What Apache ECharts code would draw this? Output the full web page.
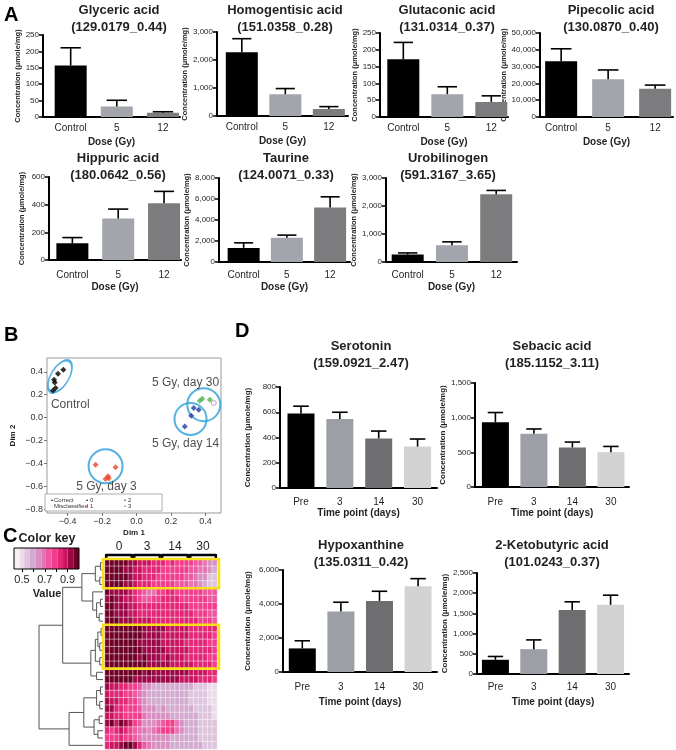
<!DOCTYPE html>
<html>
<head>
<meta charset="utf-8">
<title>Metabolite panels</title>
<script src="https://cdn.jsdelivr.net/npm/echarts@6.0.0/dist/echarts.min.js"></script>
<style>
  html, body { margin: 0; padding: 0; background: #ffffff; }
  #chart { width: 676px; height: 750px; }
</style>
</head>
<body>
<div id="chart"></div>
<script>
/* eslint-env es6 */

// ---------------- data ----------------

const doseGroups = ['Control', '5', '12'];
const timeGroups = ['Pre', '3', '14', '30'];

// mean and top of error bar, µmole/mg
const glycericMean = [157, 32, 13];
const glycericUpper = [211, 51, 16];
const homogentisicMean = [2280, 777, 251];
const homogentisicUpper = [2761, 980, 335];
const glutaconicMean = [172, 68, 45];
const glutaconicUpper = [222, 90, 63];
const pipecolicMean = [33200, 22400, 16800];
const pipecolicUpper = [40600, 28000, 19000];
const hippuricMean = [121, 300, 411];
const hippuricUpper = [162, 368, 496];
const taurineMean = [1344, 2304, 5184];
const taurineUpper = [1824, 2560, 6208];
const urobilinogenMean = [264, 600, 2424];
const urobilinogenUpper = [324, 720, 2556];

const serotoninMean = [590, 546, 393, 328];
const serotoninUpper = [648, 600, 451, 388];
const sebacicMean = [934, 769, 571, 503];
const sebacicUpper = [1074, 837, 648, 585];
const hypoxanthineMean = [1388, 3557, 4182, 5042];
const hypoxanthineUpper = [1837, 4104, 4749, 5492];
const ketobutyricMean = [352, 615, 1582, 1713];
const ketobutyricUpper = [434, 844, 1787, 1951];

// panel B, MDS coordinates
const controlDim = [[-0.425, 0.417], [-0.456, 0.383], [-0.479, 0.330], [-0.475, 0.307], [-0.470, 0.258], [-0.485, 0.237]];
const day3Dim = [[-0.238, -0.409], [-0.122, -0.432], [-0.166, -0.510], [-0.180, -0.533], [-0.161, -0.528]];
const day14Dim = [[0.332, 0.084], [0.361, 0.070], [0.317, 0.017], [0.280, -0.076]];
const day30Dim = [[0.367, 0.148], [0.381, 0.165], [0.425, 0.157]];
const misclassifiedDim = [[0.448, 0.128]];
const ringCenters = [[-0.445, 0.359], [-0.180, -0.423], [0.313, -0.011], [0.390, 0.113]];
const groupNames = ['Control', '5 Gy, day 3', '5 Gy, day 14', '5 Gy, day 30'];
const groupNameAt = [[-0.385, 0.113], [-0.175, -0.597], [0.284, -0.226], [0.284, 0.304]];
const dimXTicks = [-0.4, -0.2, 0, 0.2, 0.4];
const dimYTicks = [-0.8, -0.6, -0.4, -0.2, 0, 0.2, 0.4];

// panel C, scaled intensities (rows = metabolites, columns = samples)
const dayGroups = ['0', '3', '14', '30'];
const highlightRows = [[0, 3], [9, 14]];
const heatValues = [
  [0.97, 0.98, 0.96, 0.97, 0.95, 0.93, 0.90, 0.88, 0.86, 0.87, 0.85, 0.84, 0.82, 0.80, 0.81, 0.79, 0.78, 0.77, 0.76, 0.74, 0.72, 0.70, 0.66, 0.62],
  [0.98, 0.97, 0.97, 0.95, 0.94, 0.92, 0.88, 0.86, 0.85, 0.84, 0.83, 0.82, 0.80, 0.79, 0.80, 0.78, 0.77, 0.76, 0.75, 0.72, 0.70, 0.68, 0.64, 0.60],
  [0.99, 0.98, 0.97, 0.96, 0.95, 0.91, 0.87, 0.86, 0.84, 0.82, 0.81, 0.80, 0.79, 0.78, 0.77, 0.76, 0.76, 0.74, 0.72, 0.70, 0.66, 0.62, 0.56, 0.55],
  [0.98, 0.99, 0.97, 0.96, 0.94, 0.90, 0.86, 0.85, 0.83, 0.82, 0.80, 0.79, 0.78, 0.77, 0.76, 0.75, 0.74, 0.72, 0.70, 0.68, 0.62, 0.57, 0.54, 0.55],
  [0.95, 0.94, 0.93, 0.92, 0.90, 0.88, 0.84, 0.80, 0.72, 0.68, 0.70, 0.76, 0.80, 0.82, 0.81, 0.80, 0.79, 0.80, 0.78, 0.77, 0.76, 0.75, 0.74, 0.72],
  [0.94, 0.95, 0.92, 0.90, 0.88, 0.86, 0.82, 0.78, 0.74, 0.72, 0.76, 0.80, 0.82, 0.83, 0.82, 0.81, 0.80, 0.79, 0.78, 0.78, 0.77, 0.76, 0.74, 0.73],
  [0.96, 0.95, 0.93, 0.92, 0.90, 0.88, 0.86, 0.84, 0.83, 0.82, 0.82, 0.83, 0.84, 0.84, 0.83, 0.82, 0.82, 0.81, 0.80, 0.80, 0.79, 0.78, 0.77, 0.76],
  [0.95, 0.96, 0.94, 0.92, 0.91, 0.89, 0.87, 0.85, 0.84, 0.83, 0.84, 0.85, 0.85, 0.84, 0.84, 0.83, 0.82, 0.82, 0.81, 0.80, 0.80, 0.79, 0.75, 0.72],
  [0.97, 0.96, 0.95, 0.93, 0.92, 0.90, 0.88, 0.87, 0.86, 0.86, 0.85, 0.85, 0.84, 0.84, 0.83, 0.83, 0.82, 0.82, 0.81, 0.81, 0.80, 0.78, 0.76, 0.74],
  [0.99, 0.99, 0.98, 0.98, 0.97, 0.97, 0.96, 0.95, 0.94, 0.93, 0.92, 0.91, 0.90, 0.89, 0.88, 0.88, 0.87, 0.86, 0.85, 0.84, 0.83, 0.82, 0.82, 0.81],
  [0.98, 0.99, 0.99, 0.98, 0.97, 0.96, 0.95, 0.95, 0.94, 0.92, 0.91, 0.90, 0.89, 0.88, 0.88, 0.87, 0.86, 0.86, 0.85, 0.84, 0.83, 0.82, 0.81, 0.80],
  [0.99, 0.98, 0.98, 0.97, 0.97, 0.96, 0.96, 0.94, 0.93, 0.92, 0.92, 0.91, 0.89, 0.89, 0.88, 0.87, 0.86, 0.85, 0.84, 0.84, 0.83, 0.82, 0.80, 0.79],
  [0.98, 0.99, 0.98, 0.98, 0.97, 0.97, 0.96, 0.96, 0.94, 0.93, 0.92, 0.90, 0.90, 0.89, 0.88, 0.88, 0.87, 0.86, 0.85, 0.84, 0.83, 0.82, 0.81, 0.80],
  [0.99, 0.98, 0.98, 0.97, 0.96, 0.96, 0.95, 0.94, 0.95, 0.93, 0.91, 0.90, 0.89, 0.90, 0.88, 0.87, 0.86, 0.85, 0.84, 0.83, 0.82, 0.82, 0.80, 0.78],
  [0.98, 0.98, 0.97, 0.97, 0.97, 0.96, 0.96, 0.95, 0.96, 0.94, 0.93, 0.92, 0.91, 0.90, 0.89, 0.88, 0.88, 0.87, 0.86, 0.85, 0.84, 0.83, 0.82, 0.80],
  [0.97, 0.98, 0.98, 0.97, 0.96, 0.96, 0.95, 0.95, 0.94, 0.95, 0.94, 0.93, 0.93, 0.92, 0.92, 0.91, 0.90, 0.90, 0.89, 0.88, 0.87, 0.86, 0.85, 0.84],
  [0.96, 0.97, 0.96, 0.96, 0.95, 0.95, 0.94, 0.94, 0.93, 0.93, 0.92, 0.92, 0.91, 0.91, 0.90, 0.90, 0.89, 0.88, 0.88, 0.86, 0.85, 0.84, 0.82, 0.80],
  [0.90, 0.88, 0.86, 0.85, 0.84, 0.80, 0.76, 0.72, 0.66, 0.62, 0.60, 0.60, 0.61, 0.60, 0.60, 0.59, 0.58, 0.58, 0.57, 0.56, 0.55, 0.52, 0.50, 0.50],
  [0.88, 0.85, 0.84, 0.82, 0.80, 0.78, 0.74, 0.70, 0.64, 0.61, 0.60, 0.59, 0.60, 0.59, 0.58, 0.58, 0.57, 0.57, 0.56, 0.55, 0.54, 0.52, 0.50, 0.49],
  [0.92, 0.88, 0.86, 0.84, 0.82, 0.80, 0.76, 0.68, 0.62, 0.60, 0.60, 0.59, 0.60, 0.61, 0.60, 0.59, 0.58, 0.57, 0.56, 0.55, 0.54, 0.53, 0.51, 0.50],
  [0.90, 0.92, 0.85, 0.82, 0.80, 0.78, 0.78, 0.72, 0.66, 0.63, 0.62, 0.61, 0.62, 0.61, 0.60, 0.60, 0.59, 0.58, 0.57, 0.56, 0.55, 0.54, 0.52, 0.50],
  [0.86, 0.88, 0.84, 0.82, 0.80, 0.80, 0.80, 0.76, 0.70, 0.66, 0.64, 0.63, 0.62, 0.62, 0.61, 0.60, 0.60, 0.59, 0.58, 0.57, 0.56, 0.55, 0.53, 0.51],
  [0.92, 0.95, 0.88, 0.96, 0.90, 0.86, 0.80, 0.72, 0.64, 0.62, 0.64, 0.68, 0.74, 0.78, 0.76, 0.70, 0.64, 0.60, 0.58, 0.57, 0.56, 0.55, 0.54, 0.52],
  [0.82, 0.80, 0.84, 0.86, 0.82, 0.78, 0.74, 0.70, 0.68, 0.66, 0.70, 0.74, 0.78, 0.80, 0.76, 0.70, 0.64, 0.60, 0.58, 0.57, 0.56, 0.55, 0.53, 0.52],
  [0.78, 0.76, 0.80, 0.82, 0.80, 0.76, 0.72, 0.68, 0.66, 0.64, 0.64, 0.63, 0.62, 0.62, 0.61, 0.60, 0.60, 0.59, 0.58, 0.57, 0.56, 0.55, 0.54, 0.53],
  [0.84, 0.86, 0.88, 0.92, 0.96, 0.98, 0.90, 0.82, 0.74, 0.68, 0.66, 0.64, 0.62, 0.62, 0.61, 0.60, 0.60, 0.59, 0.58, 0.58, 0.57, 0.56, 0.55, 0.55]
];
// hclust-style merges: negative = leaf row (1-based), positive = earlier merge (1-based), then height
const dendroMerges = [
  [-1, -2, 0.04], [-3, -4, 0.05], [1, 2, 0.12],
  [-6, -7, 0.04], [-8, -9, 0.06], [4, 5, 0.10], [-5, 6, 0.16], [3, 7, 0.33],
  [-10, -11, 0.03], [-12, -13, 0.05], [9, 10, 0.08], [-14, -15, 0.05], [11, 12, 0.12],
  [-16, -17, 0.10], [13, 14, 0.19], [8, 15, 0.63],
  [-18, -19, 0.04], [-20, -21, 0.05], [17, 18, 0.10], [-22, -23, 0.06], [-24, -25, 0.08],
  [20, 21, 0.14], [19, 22, 0.30], [23, -26, 0.53], [16, 24, 1.0]
];
const keyBreaks = [0.43, 0.48, 0.52, 0.57, 0.62, 0.67, 0.71, 0.76, 0.81, 0.86, 0.90, 0.95, 1.0];
const keyTicks = [0.5, 0.6, 0.7, 0.8, 0.9];
const keyLabels = [0.5, 0.7, 0.9];

// ---------------- styling ----------------

const FONT = '"Liberation Sans", Arial, Helvetica, sans-serif';
const INK = '#231f20';
const doseColors = ['#000000', '#a2a5ac', '#7c7c7e'];
const timeColors = ['#000000', '#9c9fa6', '#6e6e70', '#d3d3d3'];
const heatColors = ['#f6f0f6', '#ecdcea', '#dfc4dd', '#d4abd0', '#da8fc3', '#e574b4',
  '#ee57a2', '#f23c8c', '#e42676', '#c9155f', '#9c0847', '#6e0027'];

const barCharts = [
  { name: 'Glyceric acid', tag: '(129.0179_0.44)', cats: doseGroups, mean: glycericMean, upper: glycericUpper, yMax: 250, yStep: 50 },
  { name: 'Homogentisic acid', tag: '(151.0358_0.28)', cats: doseGroups, mean: homogentisicMean, upper: homogentisicUpper, yMax: 3000, yStep: 1000 },
  { name: 'Glutaconic acid', tag: '(131.0314_0.37)', cats: doseGroups, mean: glutaconicMean, upper: glutaconicUpper, yMax: 250, yStep: 50 },
  { name: 'Pipecolic acid', tag: '(130.0870_0.40)', cats: doseGroups, mean: pipecolicMean, upper: pipecolicUpper, yMax: 50000, yStep: 10000 },
  { name: 'Hippuric acid', tag: '(180.0642_0.56)', cats: doseGroups, mean: hippuricMean, upper: hippuricUpper, yMax: 600, yStep: 200 },
  { name: 'Taurine', tag: '(124.0071_0.33)', cats: doseGroups, mean: taurineMean, upper: taurineUpper, yMax: 8000, yStep: 2000 },
  { name: 'Urobilinogen', tag: '(591.3167_3.65)', cats: doseGroups, mean: urobilinogenMean, upper: urobilinogenUpper, yMax: 3000, yStep: 1000 },
  { name: 'Serotonin', tag: '(159.0921_2.47)', cats: timeGroups, mean: serotoninMean, upper: serotoninUpper, yMax: 800, yStep: 200 },
  { name: 'Sebacic acid', tag: '(185.1152_3.11)', cats: timeGroups, mean: sebacicMean, upper: sebacicUpper, yMax: 1500, yStep: 500 },
  { name: 'Hypoxanthine', tag: '(135.0311_0.42)', cats: timeGroups, mean: hypoxanthineMean, upper: hypoxanthineUpper, yMax: 6000, yStep: 2000 },
  { name: '2-Ketobutyric acid', tag: '(101.0243_0.37)', cats: timeGroups, mean: ketobutyricMean, upper: ketobutyricUpper, yMax: 2500, yStep: 500 }
];

// axisX, plotTop, axisEndX, zeroY, xMin, xMax, titleX, titleY, yNameGap, labelMargin, xNameGap
const barFrames = [
  [43, 35, 180, 117, -0.6, 2.37, 119, 18.5, 16, 6, 20],
  [217, 32, 348, 116, -0.57, 2.44, 285, 18.5, 21, 6, 20],
  [380, 33, 508, 117, -0.53, 2.38, 447, 18.5, 19, 6, 20],
  [540, 33, 673, 117, -0.45, 2.38, 611, 18.5, 23, 6, 20],
  [49, 177, 181, 260, -0.51, 2.37, 118, 167, 23, 10, 22],
  [219, 178, 350, 262, -0.57, 2.46, 286, 167, 22, 8, 20],
  [386, 178, 517, 262, -0.49, 2.47, 448, 167, 24, 8, 20],
  [280, 387, 437, 488, -0.54, 3.5, 361, 354.5, 28, 9, 20],
  [475, 383, 629, 487, -0.53, 3.47, 552, 354.5, 26, 10, 21],
  [283, 570, 437, 672, -0.5, 3.49, 361, 553.5, 31, 10, 25],
  [477, 573, 629, 674, -0.48, 3.48, 552, 553.5, 28, 8, 23]
];

const ringShapes = [[18, 36, -31], [34, 34, 0], [32, 32, 0], [33, 33, 0]];

// ---------------- helpers ----------------

const option = {
  animation: false,
  backgroundColor: '#ffffff',
  grid: [], xAxis: [], yAxis: [], series: [], graphic: [], visualMap: []
};

function addGrid(box, xAxis, yAxis) {
  const idx = option.grid.length;
  option.grid.push(Object.assign({ containLabel: false, outerBoundsMode: 'none' }, box));
  option.xAxis.push(Object.assign({ gridIndex: idx }, xAxis));
  option.yAxis.push(Object.assign({ gridIndex: idx }, yAxis));
  return idx;
}

function text(str, x, y, size, extra) {
  return {
    type: 'text', x, y, silent: true, z: 50,
    style: Object.assign({
      text: str, fontSize: size, fontFamily: FONT, fill: INK,
      align: 'center', verticalAlign: 'middle',
      textAlign: 'center', textVerticalAlign: 'middle'
    }, extra || {})
  };
}

const thousands = v => Number(v).toLocaleString('en-US');
const signed = v => (v < 0 ? '\u2212' : '') + Math.abs(v).toFixed(1);

function renderErrorBar(params, api) {
  const x = api.value(0);
  const base = api.coord([x, api.value(1)]);
  const top = api.coord([x, api.value(2)]);
  const half = api.size([1, 0])[0] * (api.value(3) === 3 ? 0.22 : 0.2);
  const style = { stroke: '#000', lineWidth: 1.6 };
  return {
    type: 'group',
    children: [
      { type: 'line', shape: { x1: base[0], y1: base[1], x2: top[0], y2: top[1] }, style },
      { type: 'line', shape: { x1: top[0] - half, y1: top[1], x2: top[0] + half, y2: top[1] }, style }
    ]
  };
}

// ---------------- panels A and D ----------------

barCharts.forEach((c, k) => {
  const [ax, top, axEnd, zero, xMin, xMax, tx, ty, yGap, lblMargin, xGap] = barFrames[k];
  const isTime = c.cats.length === 4;
  const colors = isTime ? timeColors : doseColors;
  const idx = addGrid(
    { left: ax, top, width: axEnd - ax, height: zero - top },
    {
      type: 'value', min: xMin, max: xMax,
      axisLine: { show: true, onZero: false, lineStyle: { color: '#000', width: 2 } },
      axisTick: { show: false },
      splitLine: { show: false },
      axisLabel: {
        customValues: c.cats.map((_, i) => i),
        formatter: v => c.cats[Math.round(v)],
        fontSize: 10, fontFamily: FONT, color: INK, margin: lblMargin
      },
      name: isTime ? 'Time point (days)' : 'Dose (Gy)',
      nameLocation: 'middle', nameGap: xGap,
      nameTextStyle: { fontSize: 10, fontWeight: 'bold', fontFamily: FONT, color: INK }
    },
    {
      type: 'value', min: 0, max: c.yMax, interval: c.yStep,
      axisLine: { show: true, onZero: false, lineStyle: { color: '#000', width: 2 } },
      axisTick: { show: true, length: 4, lineStyle: { color: '#000', width: 1.5 } },
      splitLine: { show: false },
      axisLabel: { formatter: thousands, fontSize: 8, fontFamily: FONT, color: INK, margin: 4 },
      name: 'Concentration (\u03bcmole/mg)',
      nameLocation: 'middle', nameGap: yGap,
      nameTextStyle: { fontSize: isTime ? 8 : 7.5, fontWeight: 'bold', fontFamily: FONT, color: INK }
    }
  );
  option.series.push({
    type: 'bar', xAxisIndex: idx, yAxisIndex: idx, silent: true,
    barWidth: isTime ? 27 : 32,
    data: c.mean.map((v, i) => ({ value: [i, v], itemStyle: { color: colors[i] } })),
    z: 2
  });
  option.series.push({
    type: 'custom', xAxisIndex: idx, yAxisIndex: idx, silent: true, z: 3,
    renderItem: renderErrorBar,
    data: c.mean.map((v, i) => [i, v, c.upper[i], c.cats.length])
  });
  option.graphic.push(text(c.name + '\n' + c.tag, tx, ty, 13, { fontWeight: 'bold', lineHeight: 17 }));
});

// ---------------- panel B ----------------

const bIdx = addGrid(
  { left: 47, top: 358, width: 174, height: 155, show: true, borderColor: '#9a9a9a', borderWidth: 1, backgroundColor: 'transparent' },
  {
    type: 'value', min: -0.52, max: 0.49,
    axisLine: { show: false, onZero: false }, splitLine: { show: false },
    axisTick: { show: true, customValues: dimXTicks, length: 3, lineStyle: { color: '#777' } },
    axisLabel: { customValues: dimXTicks, formatter: signed, fontSize: 9, fontFamily: FONT, color: '#333', margin: 4 },
    name: 'Dim 1', nameLocation: 'middle', nameGap: 16,
    nameTextStyle: { fontSize: 8, fontWeight: 'bold', fontFamily: FONT, color: INK }
  },
  {
    type: 'value', min: -0.83, max: 0.52,
    axisLine: { show: false, onZero: false }, splitLine: { show: false },
    axisTick: { show: true, customValues: dimYTicks, length: 3, lineStyle: { color: '#777' } },
    axisLabel: { customValues: dimYTicks, formatter: signed, fontSize: 9, fontFamily: FONT, color: '#333', margin: 4 },
    name: 'Dim 2', nameLocation: 'middle', nameGap: 30,
    nameTextStyle: { fontSize: 8, fontWeight: 'bold', fontFamily: FONT, color: INK }
  }
);

function dimSeries(data, color, hollow) {
  return {
    type: 'scatter', xAxisIndex: bIdx, yAxisIndex: bIdx, silent: true, z: 4,
    symbol: hollow ? 'circle' : 'diamond', symbolSize: hollow ? 5 : 6,
    itemStyle: hollow ? { color: '#fff', borderColor: color, borderWidth: 1 } : { color },
    data
  };
}
option.series.push(dimSeries(controlDim, '#000000'));
option.series.push(dimSeries(day3Dim, '#e8452a'));
option.series.push(dimSeries(day14Dim, '#1f3fa6'));
option.series.push(dimSeries(day30Dim, '#4fb04f'));
option.series.push(dimSeries(misclassifiedDim, '#9a9a9a', true));
option.series.push({
  type: 'scatter', xAxisIndex: bIdx, yAxisIndex: bIdx, silent: true, z: 3,
  symbol: 'circle',
  itemStyle: { color: 'rgba(0,0,0,0)', borderColor: '#2a9fd8', borderWidth: 2 },
  data: ringCenters.map((p, i) => ({ value: p, symbolSize: [ringShapes[i][0], ringShapes[i][1]], symbolRotate: ringShapes[i][2] }))
});
option.series.push({
  type: 'scatter', xAxisIndex: bIdx, yAxisIndex: bIdx, silent: true, z: 5,
  symbolSize: 0,
  label: { show: true, position: 'inside', formatter: p => p.name, fontSize: 12, fontFamily: FONT, color: '#222' },
  data: groupNameAt.map((p, i) => ({ name: groupNames[i], value: p }))
});

// legend box inside panel B
option.graphic.push({ type: 'rect', silent: true, z: 40, shape: { x: 45, y: 494, width: 117, height: 17 }, style: { fill: '#fff', stroke: '#9a9a9a', lineWidth: 0.8 } });
[
  ['\u2022', 51, 500, '#000'], ['Correct', 54, 500, '#333'],
  ['\u25e6', 51, 506, '#999'], ['Misclassified', 54, 506, '#333'],
  ['\u2022', 86, 500, '#000'], ['0', 90, 500, '#333'],
  ['\u2022', 86, 506, '#e8452a'], ['1', 90, 506, '#333'],
  ['\u2022', 124, 500, '#1f3fa6'], ['2', 128, 500, '#333'],
  ['\u2022', 124, 506, '#4fb04f'], ['3', 128, 506, '#333']
].forEach(([s, x, y, col]) => {
  option.graphic.push(text(s, x, y, 6, { fill: col, align: 'left', textAlign: 'left' }));
});

// ---------------- panel C ----------------

const nRows = heatValues.length;
const nCols = heatValues[0].length;
const perGroup = nCols / dayGroups.length;

const heatIdx = addGrid(
  { left: 105, top: 559, width: 112, height: 190 },
  { type: 'category', data: heatValues[0].map((_, i) => i), show: false },
  { type: 'category', data: heatValues.map((_, i) => i), inverse: true, show: false }
);
const heatData = [];
heatValues.forEach((row, r) => row.forEach((v, c) => heatData.push([c, r, v])));
option.series.push({
  type: 'heatmap', xAxisIndex: heatIdx, yAxisIndex: heatIdx, silent: true,
  data: heatData, progressive: 0,
  itemStyle: { borderColor: 'rgba(255,255,255,0.75)', borderWidth: 0.6 },
  emphasis: { disabled: true }
});
const heatSeriesIndex = option.series.length - 1;

option.visualMap.push({
  type: 'piecewise', show: false, dimension: 2, seriesIndex: heatSeriesIndex,
  pieces: heatColors.map((col, i) => ({ gte: keyBreaks[i], lt: i === heatColors.length - 1 ? 1.01 : keyBreaks[i + 1], color: col })),
  outOfRange: { color: heatColors[0] }
});

// day brackets above the columns
option.series.push({
  type: 'custom', xAxisIndex: heatIdx, yAxisIndex: heatIdx, silent: true, clip: false, z: 6,
  data: dayGroups.map((_, g) => [g * perGroup, g * perGroup + perGroup - 1]),
  renderItem(params, api) {
    const s = api.coord([api.value(0), 0]);
    const e = api.coord([api.value(1), 0]);
    const w = api.size([1, 1])[0];
    const y = params.coordSys.y - 4;
    const x0 = s[0] - w / 2 + 1.2;
    const x1 = e[0] + w / 2 - 1.2;
    return {
      type: 'group',
      children: [
        { type: 'polyline', shape: { points: [[x0, y + 3.5], [x0, y], [x1, y], [x1, y + 3.5]] }, style: { stroke: '#000', lineWidth: 2.6, fill: null, lineJoin: 'round' } },
        { type: 'text', x: (x0 + x1) / 2, y: y - 8, style: { text: dayGroups[params.dataIndex], fontSize: 12, fontFamily: FONT, fill: INK, align: 'center', verticalAlign: 'middle' } }
      ]
    };
  }
});

// yellow boxes
option.series.push({
  type: 'custom', xAxisIndex: heatIdx, yAxisIndex: heatIdx, silent: true, clip: false, z: 7,
  data: highlightRows,
  renderItem(params, api) {
    const a = api.coord([0, api.value(0)]);
    const b = api.coord([0, api.value(1)]);
    const h = api.size([1, 1])[1];
    const cs = params.coordSys;
    return {
      type: 'rect',
      shape: { x: cs.x - 2, y: a[1] - h / 2, width: cs.width + 4, height: b[1] - a[1] + h },
      style: { fill: null, stroke: '#f7e01c', lineWidth: 2.6 }
    };
  }
});

// dendrogram
const nodeY = [];
const nodeH = [];
const dendroSegs = dendroMerges.map(([l, r, h], i) => {
  const yl = l < 0 ? -l - 1 : nodeY[l - 1];
  const yr = r < 0 ? -r - 1 : nodeY[r - 1];
  const hl = l < 0 ? 0 : nodeH[l - 1];
  const hr = r < 0 ? 0 : nodeH[r - 1];
  nodeY[i] = (yl + yr) / 2;
  nodeH[i] = h;
  return [hl, yl, hr, yr, h];
});
const dendroIdx = addGrid(
  { left: 39, top: 559, width: 64, height: 190 },
  { type: 'value', min: 0, max: 1, inverse: true, show: false },
  { type: 'value', min: -0.5, max: nRows - 0.5, inverse: true, show: false }
);
option.series.push({
  type: 'custom', xAxisIndex: dendroIdx, yAxisIndex: dendroIdx, silent: true, clip: false,
  data: dendroSegs,
  renderItem(params, api) {
    const h = api.value(4);
    const p = [
      api.coord([api.value(0), api.value(1)]),
      api.coord([h, api.value(1)]),
      api.coord([h, api.value(3)]),
      api.coord([api.value(2), api.value(3)])
    ];
    return { type: 'polyline', shape: { points: p }, style: { stroke: '#555', lineWidth: 1, fill: null } };
  }
});

// colour key
const keyIdx = addGrid(
  { left: 14, top: 548, width: 65, height: 21 },
  {
    type: 'value', min: keyBreaks[0], max: keyBreaks[keyBreaks.length - 1],
    axisLine: { show: false, onZero: false }, splitLine: { show: false },
    axisTick: { show: true, customValues: keyTicks, length: 3, lineStyle: { color: '#000', width: 1 } },
    axisLabel: { customValues: keyLabels, formatter: v => v.toFixed(1), fontSize: 11, fontFamily: FONT, color: INK, margin: 5 }
  },
  { type: 'value', min: 0, max: 1, show: false }
);
option.series.push({
  type: 'custom', xAxisIndex: keyIdx, yAxisIndex: keyIdx, silent: true, clip: false,
  data: heatColors.map((_, i) => [keyBreaks[i], keyBreaks[i + 1]]),
  renderItem(params, api) {
    const a = api.coord([api.value(0), 1]);
    const b = api.coord([api.value(1), 0]);
    const children = [{ type: 'rect', shape: { x: a[0], y: a[1], width: b[0] - a[0], height: b[1] - a[1] }, style: { fill: heatColors[params.dataIndex] } }];
    if (params.dataIndex === heatColors.length - 1) {
      const cs = params.coordSys;
      children.push({ type: 'rect', shape: { x: cs.x, y: cs.y, width: cs.width, height: cs.height }, style: { fill: null, stroke: '#000', lineWidth: 1 } });
    }
    return { type: 'group', children };
  }
});
option.graphic.push(text('Color key', 47, 539, 12.5, { fontWeight: 'bold' }));
option.graphic.push(text('Value', 47, 594, 11, { fontWeight: 'bold' }));

// panel letters
[['A', 4, 15], ['B', 4, 335], ['C', 3, 536], ['D', 235, 331]].forEach(([s, x, y]) => {
  option.graphic.push(text(s, x, y, 20, { fontWeight: 'bold', align: 'left', textAlign: 'left', fill: '#000' }));
});

const chart = echarts.init(document.getElementById('chart'), null, { renderer: 'canvas' });
chart.setOption(option);
</script>
</body>
</html>
